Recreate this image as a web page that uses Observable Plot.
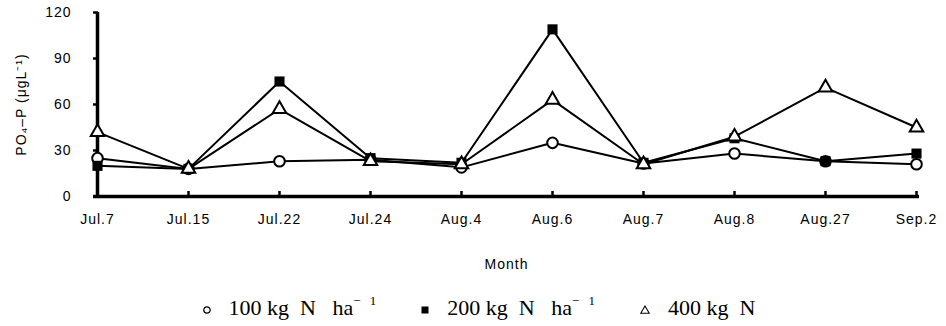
<!DOCTYPE html>
<html>
<head>
<meta charset="utf-8">
<script src="https://cdn.jsdelivr.net/npm/d3@7"></script>
<script src="https://cdn.jsdelivr.net/npm/@observablehq/plot@0.6"></script>
<style>
  html, body { margin: 0; padding: 0; background: #fff; }
  #chart svg text { font-family: "Liberation Sans", Arial, sans-serif; font-size: 14px; letter-spacing: 1px; fill: #000; }
  #chart svg text.ylab { font-size: 15px; letter-spacing: 1.2px; }
  #legend { font-family: "Liberation Serif", "Times New Roman", serif; font-size: 22px; color: #000;
    text-align: center; height: 36px; line-height: 36px; padding-left: 12px; white-space: nowrap; }
  #legend span.item { display: inline-block; margin: 0 21px; }
  #legend sup { font-size: 13px; vertical-align: 10px; line-height: 0; letter-spacing: 3px; }
  #legend svg { vertical-align: 1px; margin-right: 18px; }
</style>
</head>
<body>
<div id="chart"></div>
<div id="legend"></div>
<script>
const dates = ["Jul.7","Jul.15","Jul.22","Jul.24","Aug.4","Aug.6","Aug.7","Aug.8","Aug.27","Sep.2"];
const series = ["100 kg N ha", "200 kg N ha", "400 kg N"];
const n100 = [25, 18, 23, 24, 19, 35, 21.5, 28, 23, 21];
const n200 = [20, 18, 75, 25, 22, 109, 22, 38, 23, 28];
const n400 = [42, 18, 57, 23, 21, 63, 21, 39, 71, 45];
const yTicks = [0, 30, 60, 90, 120];

const rows = [];
[n100, n200, n400].forEach((vals, si) => vals.forEach((v, i) => rows.push({date: dates[i], value: v, series: series[si]})));
const bySeries = s => rows.filter(r => r.series === s);

const chart = Plot.plot({
  width: 946,
  height: 290,
  marginLeft: 93,
  marginRight: 27,
  marginTop: 12,
  marginBottom: 94,
  style: {background: "#fff"},
  x: {type: "point", domain: dates, padding: 0},
  y: {domain: [0, 120]},
  marks: [
    Plot.axisX({tickSize: -5, tickPadding: 23, strokeWidth: 2.5, label: null}),
    Plot.axisY({ticks: yTicks, tickSize: -5, tickPadding: 27, strokeWidth: 2.5, label: null}),
    Plot.ruleY([0], {strokeWidth: 3.5}),
    Plot.ruleX([dates[0]], {strokeWidth: 3.5}),
    Plot.text(["PO\u2084\u2013P (\u03bcgL\u207b\u00b9)"], {frameAnchor: "left", textAnchor: "middle", dx: -72, rotate: -90, className: "ylab"}),
    Plot.text(["Month"], {frameAnchor: "bottom", dy: 72}),
    Plot.line(bySeries(series[0]), {x: "date", y: "value", stroke: "#000", strokeWidth: 2}),
    Plot.line(bySeries(series[1]), {x: "date", y: "value", stroke: "#000", strokeWidth: 2}),
    Plot.line(bySeries(series[2]), {x: "date", y: "value", stroke: "#000", strokeWidth: 2}),
    Plot.dot(bySeries(series[0]), {x: "date", y: "value", symbol: "circle", r: 5.3, fill: "#fff", stroke: "#000", strokeWidth: 2}),
    Plot.dot(bySeries(series[1]), {x: "date", y: "value", symbol: "square", r: 5.7, fill: "#000", stroke: "none"}),
    Plot.dot(bySeries(series[2]), {x: "date", y: "value", symbol: "triangle", r: 5, fill: "#fff", stroke: "#000", strokeWidth: 2})
  ]
});
document.getElementById("chart").appendChild(chart);

const sym = [
  '<svg width="8" height="8"><circle cx="4" cy="4" r="3.2" fill="#fff" stroke="#000" stroke-width="1.2"/></svg>',
  '<svg width="8" height="8"><rect x="0.5" y="0.5" width="7" height="7" fill="#000"/></svg>',
  '<svg width="10" height="9"><path d="M5,1 L9.3,8.3 L0.7,8.3 Z" fill="#fff" stroke="#000" stroke-width="1.1"/></svg>'
];
const legendHtml = series.map((s, i) => {
  const parts = s.split(" ");
  let txt = parts[0] + " kg&nbsp;&nbsp;N";
  if (parts.length > 3) txt += "&nbsp;&nbsp;&nbsp;ha<sup>\u2212 1</sup>";
  return `<span class="item">${sym[i]}${txt}</span>`;
}).join("");
document.getElementById("legend").innerHTML = legendHtml;
</script>
</body>
</html>
